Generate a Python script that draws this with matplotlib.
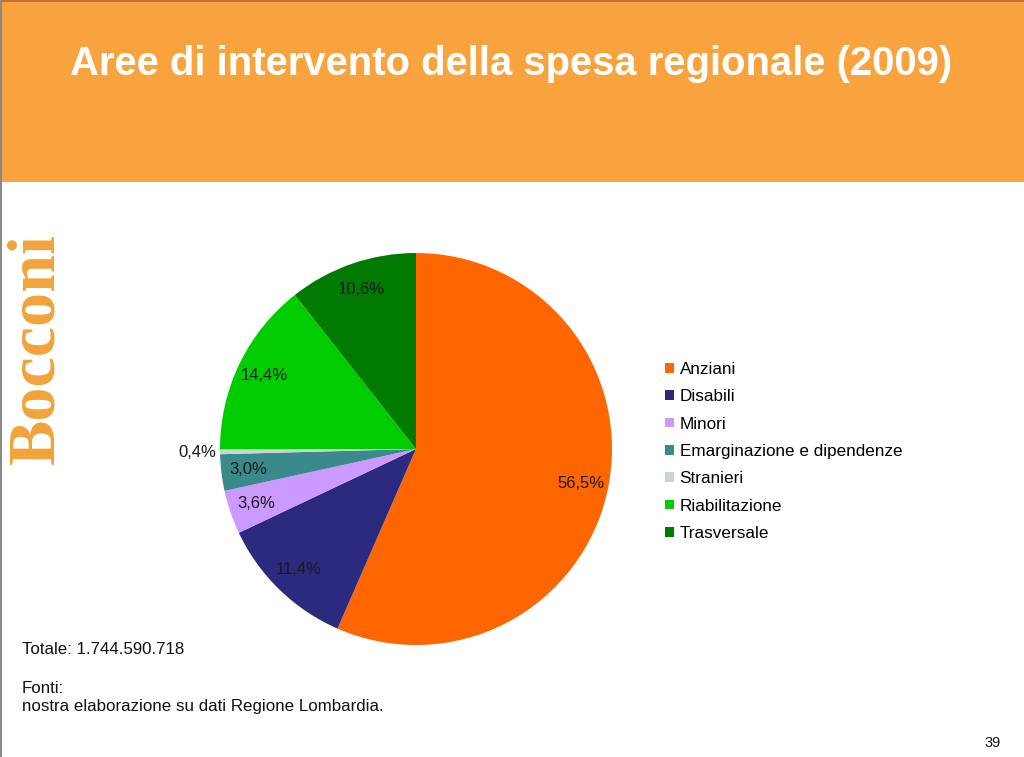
import matplotlib
matplotlib.use("Agg")
import matplotlib.pyplot as plt
from matplotlib.patches import Rectangle
from matplotlib.lines import Line2D

plt.rcParams['font.family'] = ['Liberation Sans', 'DejaVu Sans']

categories = ["Anziani", "Disabili", "Minori", "Emarginazione e dipendenze",
              "Stranieri", "Riabilitazione", "Trasversale"]
values = [56.5, 11.4, 3.6, 3.0, 0.4, 14.4, 10.6]
colors = ["#FF6600", "#2B2A7E", "#CC99FF", "#3A8A8C", "#C3D6D0", "#00CC00", "#007A00"]
title = "Aree di intervento della spesa regionale (2009)"
totale = "Totale: 1.744.590.718"
fonti = "Fonti:\nnostra elaborazione su dati Regione Lombardia."
page = "39"

W, H = 1024, 757
fig = plt.figure(figsize=(W / 100, H / 100), dpi=100)
fig.patch.set_facecolor("white")

# header band
fig.patches.append(Rectangle((0, 1 - 182 / H), 1, 182 / H, transform=fig.transFigure,
                             facecolor="#F8A33D", edgecolor="none", zorder=0))
fig.lines.append(Line2D([0, 1], [1 - 1 / H, 1 - 1 / H], transform=fig.transFigure,
                        color="#B5654A", lw=1.2))
fig.lines.append(Line2D([1 / W, 1 / W], [0, 1], transform=fig.transFigure,
                        color="#8A8A8A", lw=1.5))
fig.text(511 / W, 1 - 64 / H, title, ha="center", va="center", color="white",
         fontsize=28.8, fontweight="bold")

# Bocconi logo
fig.text(37 / W, 1 - 349 / H, "Bocconi", rotation=90, ha="center", va="center",
         color="#F2A33A", fontsize=49, fontweight="bold", family="Liberation Serif")

# pie
cx, cy, r = 416, 449, 196
ax = fig.add_axes([(cx - r) / W, (H - cy - r) / H, 2 * r / W, 2 * r / H])
labels = [f"{v:.1f}%".replace(".", ",") for v in values]
wedges, texts = ax.pie(values, colors=colors, startangle=90, counterclock=False,
                       labels=labels, labeldistance=0.86,
                       textprops=dict(fontsize=12, color="#1a1a1a"),
                       wedgeprops=dict(linewidth=0))
for t in texts:
    t.set_ha("center")
    t.set_va("center")
# small slice label placed outside
x0, y0 = texts[4].get_position()
texts[4].set_position((x0 * 1.30, y0 * 1.30))
ax.set_xlim(-1, 1)
ax.set_ylim(-1, 1)
ax.set_aspect("equal")
ax.axis("off")

fig.legend(wedges, categories, loc="upper left",
           bbox_to_anchor=(665 / W, 1 - 362 / H), frameon=False,
           fontsize=12.3, handlelength=0.5, handleheight=0.5, handletextpad=0.35,
           labelspacing=0.72, borderpad=0, borderaxespad=0)

fig.text(22 / W, 1 - 650 / H, totale, ha="left", va="center", fontsize=12.2, color="#111111")
fig.text(22 / W, 1 - 697.5 / H, fonti, ha="left", va="center", fontsize=12.2,
         color="#111111", linespacing=1.3)
fig.text(1001 / W, 1 - 743 / H, page, ha="right", va="center", fontsize=10.5, color="#111111")

fig.savefig("out.png", dpi=100)
